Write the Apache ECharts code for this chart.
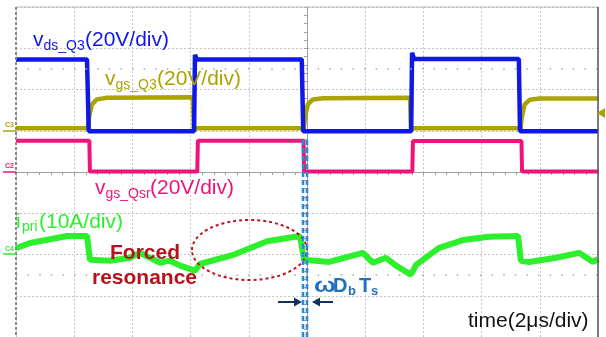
<!DOCTYPE html>
<html>
<head>
<meta charset="utf-8">
<script src="https://cdn.jsdelivr.net/npm/echarts@6/dist/echarts.min.js"></script>
<style>
  html, body { margin: 0; padding: 0; background: #fff; }
  #chart { width: 606px; height: 337px; }
</style>
</head>
<body>
<div id="chart"></div>
<script>
// x: time in us (0 = screen centre, 2us/div), y: divisions
const vdsQ3 = [[-10, 2.73], [-7.56, 2.73], [-7.5, 0.99], [-3.88, 0.99], [-3.85, 2.84], [-3.78, 2.73],
  [-0.18, 2.73], [-0.13, 0.99], [3.58, 0.99], [3.61, 2.89], [3.68, 2.74], [7.28, 2.74], [7.32, 0.99], [10, 0.99]]

const vgsQ3 = [[-10, 1.06], [-7.53, 1.06], [-7.49, 1.33], [-7.39, 1.64], [-7.22, 1.76], [-6.87, 1.8],
  [-3.92, 1.81], [-3.89, 1.06], [-0.11, 1.06], [-0.07, 1.33], [0.03, 1.64], [0.2, 1.76], [0.55, 1.79],
  [3.54, 1.8], [3.57, 1.06], [7.34, 1.06], [7.38, 1.33], [7.48, 1.64], [7.65, 1.75], [8.0, 1.78], [10, 1.78]]

const vgsQsr = [[-10, 0.76], [-7.48, 0.76], [-7.46, 0.01], [-3.77, 0.01], [-3.75, 0.76], [-0.12, 0.76],
  [-0.1, 0.01], [3.62, 0.01], [3.64, 0.75], [7.37, 0.75], [7.39, 0.01], [10, 0.01]]

const iPri = [[-10, -1.85], [-9.52, -1.72], [-8.83, -1.63], [-8.25, -1.55], [-7.56, -1.55], [-7.46, -2.13],
  [-6.77, -2.15], [-6.08, -2.08], [-5.74, -1.96], [-5.4, -2.08], [-5.05, -2.2], [-4.71, -2.15],
  [-4.36, -2.27], [-3.85, -2.39], [-3.68, -2.23], [-2.54, -2.01], [-1.37, -1.68], [-0.24, -1.55],
  [-0.1, -2.13], [0.76, -2.18], [1.92, -1.96], [2.27, -2.2], [2.71, -2.08], [3.06, -2.27], [3.57, -2.49],
  [3.75, -2.25], [4.54, -1.84], [5.36, -1.65], [6.25, -1.57], [7.25, -1.55], [7.35, -2.15], [7.63, -2.18],
  [8.56, -2.08], [9.35, -1.96], [9.83, -2.18], [10, -2.11]]

const FONT = '"Liberation Sans", Arial, sans-serif'

function label(x, y, text, size, color, weight) {
  return {
    type: 'text',
    x: x,
    y: y,
    z: 100,
    silent: true,
    style: {
      text: text,
      fill: color,
      font: (weight || 'normal') + ' ' + size + 'px ' + FONT,
      align: 'left',
      verticalAlign: 'middle',
      textAlign: 'left',
      textVerticalAlign: 'middle',
    },
  }
}

function line(x1, y1, x2, y2, color, width, dash) {
  return {
    type: 'line',
    z: 100,
    silent: true,
    shape: { x1: x1, y1: y1, x2: x2, y2: y2 },
    style: { stroke: color, lineWidth: width, lineDash: dash || null },
  }
}

function poly(points, color) {
  return { type: 'polygon', z: 100, silent: true, shape: { points: points }, style: { fill: color } }
}

function trace(data, color, width, z) {
  return {
    type: 'line',
    data: data,
    z: z,
    showSymbol: false,
    silent: true,
    lineStyle: { color: color, width: width },
  }
}

const BLUE = '#1018e8'
const OLIVE = '#aaa400'
const PINK = '#f0147a'
const GREEN = '#2cf02c'
const NAVY = '#14305e'
const WBLUE = '#1f70c1'

let chart = echarts.init(document.getElementById('chart'), null, { renderer: 'canvas' })

let pinkSeries = trace(vgsQsr, PINK, 4, 2)
pinkSeries.markLine = {
  silent: true,
  symbol: 'none',
  label: { show: false },
  lineStyle: { color: '#aaa', type: [1.5, 10.1], width: 1.5 },
  data: [{ yAxis: 2.5 }, { yAxis: -2.5 }],
}

let omega = label(314, 286, 'ω', 20, WBLUE, 'bold')
omega.scaleX = 1.3

chart.setOption({
  animation: false,
  backgroundColor: '#fff',
  grid: { left: 16, top: 7, width: 582, height: 333 },
  xAxis: {
    type: 'value',
    min: -10,
    max: 10,
    interval: 2,
    axisLine: { onZero: true, lineStyle: { color: '#a0a0a0' } },
    axisTick: { show: true, length: 3, lineStyle: { color: '#a0a0a0' } },
    minorTick: { show: true, splitNumber: 5, length: 3, lineStyle: { color: '#a0a0a0' } },
    axisLabel: { show: false },
    splitLine: { show: true, lineStyle: { color: '#c4c4c4', type: [2, 2] } },
  },
  yAxis: {
    type: 'value',
    min: -4,
    max: 4,
    interval: 1,
    axisLine: { onZero: true, lineStyle: { color: '#a0a0a0' } },
    axisTick: { show: true, length: 3, lineStyle: { color: '#a0a0a0' } },
    minorTick: { show: true, splitNumber: 5, length: 3, lineStyle: { color: '#a0a0a0' } },
    axisLabel: { show: false },
    splitLine: { show: true, lineStyle: { color: '#c4c4c4', type: [2, 2] } },
  },
  series: [
    pinkSeries,
    trace(vgsQ3, OLIVE, 4.5, 3),
    trace(vdsQ3, BLUE, 4.5, 4),
    trace(iPri, GREEN, 6, 5),
  ],
  graphic: [
    // screen border
    line(16, 7, 598, 7, '#bdbdbd', 1),
    line(16, 7, 16, 337, '#8a8a8a', 2, [3, 2]),
    line(598, 7, 598, 337, '#555', 1.5),

    // channel ground markers
    label(5, 125, 'C3', 7, OLIVE, 'bold'),
    line(3, 131, 16, 131, OLIVE, 1.5),
    label(5, 166, 'C2', 7, PINK, 'bold'),
    line(3, 172, 16, 172, PINK, 1.5),
    label(5, 249, 'C4', 7, GREEN, 'bold'),
    line(3, 254, 16, 254, GREEN, 1.5),
    poly([[605, 108], [597, 113], [605, 118]], OLIVE),

    // trace names
    label(33, 40, 'v', 21, BLUE),
    label(43.5, 46, 'ds_Q3', 14, BLUE),
    label(85, 40, '(20V/div)', 21, BLUE),

    label(105, 79, 'v', 21, OLIVE),
    label(115.5, 85, 'gs_Q3', 14, OLIVE),
    label(157, 79, '(20V/div)', 21, OLIVE),

    label(95, 188, 'v', 21, PINK),
    label(105.5, 194, 'gs_Qsr', 14, PINK),
    label(150, 188, '(20V/div)', 21, PINK),

    label(16, 222, 'i', 21, GREEN),
    label(22, 227, 'pri', 14, GREEN),
    label(39, 222, '(10A/div)', 21, GREEN),

    label(110, 253, 'Forced', 21, '#b5121b', 'bold'),
    label(92, 278, 'resonance', 21, '#b5121b', 'bold'),
    {
      type: 'ellipse',
      z: 100,
      silent: true,
      shape: { cx: 249.5, cy: 250, rx: 57.5, ry: 30 },
      style: { fill: 'none', stroke: '#c0141c', lineWidth: 2, lineDash: [3, 3] },
    },

    // dead time marker
    line(303, 140, 303, 337, '#2a88d6', 2.5, [5, 3]),
    line(307, 140, 307, 337, '#2a88d6', 2.5, [5, 3]),
    line(278, 302, 296, 302, NAVY, 2),
    poly([[294, 297.5], [302, 302], [294, 306.5]], NAVY),
    line(333, 302, 318, 302, NAVY, 2),
    poly([[320, 297.5], [312, 302], [320, 306.5]], NAVY),
    omega,
    label(333, 286, 'D', 20, WBLUE, 'bold'),
    label(348, 291, 'b', 13, WBLUE, 'bold'),
    label(359, 286, 'T', 20, WBLUE, 'bold'),
    label(371, 291, 's', 13, WBLUE, 'bold'),

    label(468, 321, 'time(2μs/div)', 21, '#111'),
  ],
})
</script>
</body>
</html>
